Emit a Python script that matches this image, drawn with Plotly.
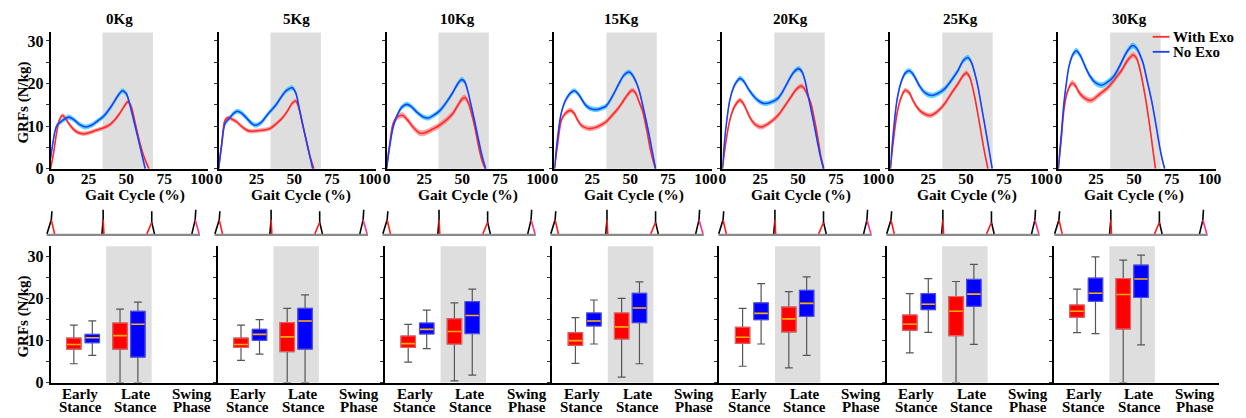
import plotly.graph_objects as go

W, H = 1246, 418
FIG_H = 428   # rendered page is squeezed vertically; positions below are fractions of H

LOADS = ["0Kg", "5Kg", "10Kg", "15Kg", "20Kg", "25Kg", "30Kg"]
SERIES = ["With Exo", "No Exo"]
GAIT_TICKS = [0, 25, 50, 75, 100]
GRF_TICKS = [0, 5, 10, 15, 20, 25, 30]
GRF_TICKTEXT = ["0", "", "10", "", "20", "", "30"]
PHASE_LINE1 = ["Early", "Late", "Swing"]
PHASE_LINE2 = ["Stance", "Stance", "Phase"]
LATE_STANCE = [34.3, 67.6]          # shaded late-stance window, gait cycle (%)

# ---- mean GRF curves (gait cycle %, N/kg) read from the top row ----
NOEXO_X = [
    [0, 1.5, 3, 4.5, 6, 9, 12, 15, 19, 23, 27, 31, 35, 40, 44, 47.5, 50, 52, 55, 58, 60.5, 62.5],
    [0, 2, 4.3, 7, 10, 12.4, 15, 19, 22, 24.7, 28, 31, 33.8, 38, 41.5, 45, 48.7, 51, 53.5, 56, 58.5, 60.5, 62.2],
    [0, 2, 4.4, 7, 10, 13.3, 16, 20, 24, 27.7, 31, 35.4, 40, 44, 47, 49.5, 51.5, 53.5, 55.5, 58, 60.5, 63, 65.5],
    [0, 2, 4, 5.6, 8, 11, 13.3, 16, 20.9, 24, 28.6, 31, 34.1, 38, 42.8, 46, 49.3, 51.5, 54, 55.9, 59, 62.4, 64.5, 66.8],
    [0, 2, 4.9, 7.5, 10, 11.6, 14, 17, 20.3, 24, 28, 32, 36.7, 40, 43.3, 47, 50.3, 52.5, 54.5, 56.4, 59, 61, 63, 65, 66.9],
    [0, 2, 4.4, 7, 10, 12.5, 15, 19.7, 23, 27.3, 31, 36, 40, 44.8, 48, 51.3, 53.5, 55.5, 57.9, 60.5, 63.4, 65.5, 67.3],
    [0, 2, 3.7, 5.5, 7, 9.5, 12, 14.5, 17.9, 21, 24.5, 28.4, 32, 36.5, 40, 43, 46, 49.1, 51.5, 54, 56.1, 58.5, 61.6, 64.5, 67, 68.8, 70.3],
]
NOEXO_Y = [
    [2.5, 6.0, 9.0, 10.3, 10.8, 11.6, 12.1, 11.6, 10.4, 9.8, 10.2, 11.2, 12.3, 14.6, 16.9, 18.3, 17.6, 15.5, 11.2, 6.8, 3.0, 0.0],
    [0, 5.5, 10.6, 11.8, 13.0, 13.5, 13.1, 11.7, 10.6, 10.2, 10.8, 12.1, 13.3, 15.0, 16.9, 18.4, 19.0, 17.8, 13.8, 9.7, 5.8, 2.6, 0],
    [0, 5, 9.8, 12.5, 14.4, 15.1, 14.7, 13.3, 12.2, 11.9, 12.5, 13.7, 15.8, 18.0, 19.9, 20.9, 20.5, 18.5, 15.5, 11.5, 7.3, 3.2, 0],
    [0, 7, 12.2, 14.5, 16.5, 17.9, 18.3, 17.4, 14.8, 14.1, 13.9, 14.2, 14.7, 16.8, 20.1, 22.0, 22.7, 22.0, 20.3, 18.4, 13.8, 8.2, 4.3, 0],
    [0, 8.5, 16.1, 19.2, 20.7, 21.2, 20.6, 18.8, 17.2, 15.9, 15.3, 15.6, 16.5, 18.2, 20.4, 22.6, 23.5, 22.8, 20.8, 17.6, 13.2, 9.6, 5.9, 2.5, 0],
    [0, 8.5, 16.1, 20.2, 22.5, 23.0, 22.2, 19.2, 17.8, 17.2, 17.6, 18.8, 20.6, 23.1, 25.3, 26.1, 25.0, 22.8, 19.2, 14.0, 8.2, 3.8, 0],
    [0, 8, 15.3, 20.5, 23.9, 26.7, 27.7, 26.6, 23.9, 21.7, 20.2, 19.6, 20.2, 21.6, 23.7, 25.9, 27.8, 28.9, 28.4, 26.7, 24.7, 21.0, 16.1, 10.4, 5.1, 2.0, 0],
]
EXO_X = [
    [0, 2, 4, 6, 7.8, 9.5, 12, 15, 18, 21.5, 25, 30, 35, 39, 42, 45.5, 48.5, 51, 53, 56, 59, 62, 65],
    [0, 2, 4.3, 6.5, 9, 12, 15, 18, 20.7, 25, 30, 33.8, 38, 42.6, 46, 48.5, 50.9, 53, 55.5, 58, 60.5, 63],
    [0, 2, 4.4, 7, 9, 11, 14, 17.5, 21.8, 25, 30, 35, 40, 43.7, 47, 50, 51.8, 54, 56.8, 59, 61.2, 63.5, 65.5],
    [0, 2, 4.6, 7, 10.5, 13, 15, 17.7, 20, 23.1, 28, 34.1, 38, 42.8, 47, 50, 51.9, 54, 56, 58.1, 61, 63.5, 65.5, 66.8],
    [0, 2, 4.9, 8, 11.6, 14, 16.5, 19.2, 22, 25.8, 30, 36.7, 41, 45.4, 49, 52.4, 54.5, 56.5, 58.5, 61, 63.3, 65, 66.9],
    [0, 2, 4.4, 7, 9.8, 12.5, 15, 17.5, 21, 26.2, 31, 36, 40, 44.8, 48, 50.3, 52.5, 55.7, 58.5, 61.2, 63, 64.5],
    [0, 2, 3.7, 6, 9.2, 11.3, 13.5, 17, 20, 22.3, 27, 33.2, 38, 41.9, 45.5, 49.5, 51.8, 53.5, 55, 57.5, 60.5, 62.5, 64.2],
]
EXO_Y = [
    [0, 3.8, 8.5, 11.6, 12.5, 12.0, 10.6, 9.3, 8.5, 8.2, 8.4, 9.0, 9.6, 10.3, 11.3, 12.9, 14.6, 15.7, 14.8, 10.5, 6.0, 2.5, 0],
    [0, 5.5, 11.4, 12.0, 11.6, 11.0, 10.0, 9.2, 8.8, 8.9, 9.1, 9.4, 10.5, 12.1, 13.8, 15.3, 15.9, 14.3, 10.4, 6.5, 2.8, 0],
    [0, 5.5, 10.6, 12.1, 12.5, 12.5, 11.4, 9.8, 8.4, 8.4, 9.2, 10.2, 11.6, 12.9, 14.8, 16.4, 16.7, 15.5, 12.1, 8.6, 4.6, 1.5, 0],
    [0, 5.5, 11.4, 12.9, 13.7, 13.0, 11.6, 10.2, 9.7, 9.4, 9.8, 11.0, 12.5, 14.5, 16.7, 18.1, 18.4, 17.5, 15.6, 13.7, 9.0, 4.3, 1.5, 0],
    [0, 5.5, 11.4, 14.6, 16.1, 15.2, 13.3, 11.4, 10.3, 9.8, 10.5, 12.5, 14.6, 16.9, 18.7, 19.4, 18.6, 17.0, 15.3, 11.2, 6.7, 3.0, 0],
    [0, 6.5, 12.9, 16.6, 18.4, 17.8, 16.0, 14.5, 13.2, 12.5, 13.4, 15.3, 17.5, 20.0, 21.8, 22.5, 21.4, 16.9, 11.5, 5.9, 2.5, 0],
    [0, 7, 13.7, 18.0, 20.1, 19.5, 18.0, 16.7, 16.1, 16.1, 17.4, 19.2, 21.3, 23.1, 25.3, 26.7, 25.9, 24.0, 21.6, 16.8, 9.8, 4.5, 0],
]
NOEXO_SD = [0.6, 0.6, 0.6, 0.6, 0.6, 0.65, 0.7]
EXO_SD = [0.5, 0.5, 0.7, 0.6, 0.6, 0.6, 0.7]

# ---- phase box plots: [lower whisker, Q1, median, Q3, upper whisker] (N/kg) ----
BOX_EXO_EARLY = [[4.5, 8.0, 9.1, 10.6, 13.7], [5.3, 8.4, 9.1, 10.6, 13.7], [4.9, 8.4, 9.3, 11.1, 13.9],
                 [4.6, 8.9, 10.0, 11.9, 15.5], [3.9, 9.4, 10.8, 13.2, 17.7], [7.1, 12.5, 13.9, 16.1, 21.2],
                 [11.9, 15.6, 17.0, 18.5, 22.3]]
BOX_NOEXO_EARLY = [[6.5, 9.5, 10.7, 11.5, 14.7], [6.8, 10.1, 11.5, 12.7, 15.0], [8.1, 11.6, 12.7, 14.2, 17.3],
                   [9.2, 13.5, 14.7, 16.6, 19.7], [9.2, 15.0, 16.5, 19.0, 23.6], [12.0, 17.4, 18.7, 21.2, 24.8],
                   [11.7, 19.4, 21.3, 24.9, 30.0]]
BOX_EXO_LATE = [[0, 8.0, 11.2, 14.2, 17.5], [0, 7.4, 10.9, 14.3, 17.7], [0.4, 9.2, 12.2, 15.2, 19.0],
                [1.3, 10.4, 13.3, 16.6, 20.1], [3.5, 12.1, 15.2, 18.0, 21.7], [0, 11.2, 17.0, 20.5, 24.1],
                [0, 12.8, 21.0, 24.8, 29.2]]
BOX_NOEXO_LATE = [[0, 6.1, 13.9, 17.0, 19.2], [0, 8.0, 14.7, 17.7, 20.9], [1.8, 11.7, 16.0, 19.3, 22.3],
                  [4.5, 14.3, 17.8, 21.3, 24.0], [6.5, 15.8, 18.9, 22.0, 25.2], [9.1, 18.2, 21.1, 24.6, 28.2],
                  [9.0, 20.3, 24.7, 28.0, 30.4]]

# ---- gait-phase stick figures (x: gait %, y: height in strip units) ----
STICK_TOP_X = [0.87, 34.7, 66.8, 95.9]
STICK_TOP_Y = [25.3, 26.7, 25.3, 26.7]
STICK_HIP_X = [0.44, 34.7, 66.8, 95.5]
STICK_HIP_Y = [16.7, 16.7, 14.3, 16.7]
BLACK_FOOT_X = [-2.4, 33.9, 68.6, 93.3]
COLOR_FOOT_X = [2.6, 35.2, 63.6, 98.1]
FOOT_Y = [2.7, 2.7, 2.7, 2.7]
LEG_COLORS = ["#ff1a1a", "#ff1a1a", "#ff1a1a", "#ff2a8a"]
GROUND_X = [-2.6, 98.7]
GROUND_Y = [1.7, 1.7]

# ---------------- styling / layout constants ----------------
FAM = "Liberation Serif, Times New Roman, serif"


def fnt(size):
    return dict(family=FAM, size=size, color="black", weight="bold")


RED, RED_BAND = "#ff2b2b", "rgba(255,90,90,0.55)"
BLUE, BLUE_BAND = "#1f3dff", "rgba(0,195,255,0.65)"
BOX_RED, BOX_RED_EDGE = "#ff0000", "#ff6060"
BOX_BLUE, BOX_BLUE_EDGE = "#0000ff", "#5050ff"
MEDIAN = "#ffab00"
WHISK = "#555555"
SHADE = "#dedede"

TOP_LEFT = [47 + 169.3 * i for i in range(7)]
TOP_W = 158.7
TOP_Y = (32.3, 168.3)
STRIP_Y = (207.0, 236.0)
BOT_LEFT = [47 + 168.55 * i for i in range(7)]
BOT_W = 167.0
BOT_Y = (245.7, 381.7)
POS = dict(exo_early=0.42, noexo_early=0.755, exo_late=1.257, noexo_late=1.58)
BOX_W = 0.26
LATE_BOX = [1.006, 1.83]
PHASE_POS = [0.539, 1.545, 2.563]
TITLE_CX = [116, 295.3, 457.2, 622.8, 793, 963.8, 1134.2]
XT_CX = [131.7 + 167.9 * i for i in range(7)]


def sfx(n):
    return "" if n == 1 else str(n)


def xd(a, b):
    return [a / W, b / W]


def yd(top, bottom):
    return [1 - bottom / H, 1 - top / H]


fig = go.Figure()
layout = dict(width=W, height=FIG_H, margin=dict(l=0, r=0, t=0, b=0),
              paper_bgcolor="white", plot_bgcolor="rgba(0,0,0,0)", showlegend=False)
shapes, annotations = [], []

for i in range(7):
    nt, ns, nb = 1 + i, 8 + i, 15 + i
    xt, yt = "x" + sfx(nt), "y" + sfx(nt)
    xs, ys = "x" + sfx(ns), "y" + sfx(ns)
    xb, yb = "x" + sfx(nb), "y" + sfx(nb)

    # ---------- top: GRF curves ----------
    L = TOP_LEFT[i]
    layout["xaxis" + sfx(nt)] = dict(domain=xd(L, L + TOP_W), range=[0, 104], anchor=yt,
                                     tickvals=GAIT_TICKS, ticks="", showline=True, linewidth=2,
                                     linecolor="black", showgrid=False, zeroline=False,
                                     tickfont=fnt(15.5), ticklabelstandoff=-5, fixedrange=True)
    layout["yaxis" + sfx(nt)] = dict(domain=yd(*TOP_Y), range=[0, 32], anchor=xt,
                                     tickvals=GRF_TICKS,
                                     ticktext=GRF_TICKTEXT if i == 0 else [""] * len(GRF_TICKS),
                                     ticks="outside", ticklen=3, tickwidth=1, tickcolor="#333",
                                     showline=True, linewidth=2, linecolor="black", ticklabelstandoff=-1,
                                     showgrid=False, zeroline=False, tickfont=fnt(16), fixedrange=True)
    shapes.append(dict(type="rect", xref=xt, yref=yt + " domain", x0=LATE_STANCE[0], x1=LATE_STANCE[1],
                       y0=0, y1=1, fillcolor=SHADE, line=dict(width=0), layer="below"))

    curves = [(EXO_X[i], EXO_Y[i], EXO_SD[i], RED, RED_BAND, SERIES[0]),
              (NOEXO_X[i], NOEXO_Y[i], NOEXO_SD[i], BLUE, BLUE_BAND, SERIES[1])]
    for cx, cy, sd, col, band, name in curves:
        fig.add_trace(go.Scatter(x=cx, y=[v + sd for v in cy], xaxis=xt, yaxis=yt, mode="lines",
                                 line=dict(width=0, shape="spline", smoothing=0.9),
                                 hoverinfo="skip", showlegend=False))
        fig.add_trace(go.Scatter(x=cx, y=[v - sd for v in cy], xaxis=xt, yaxis=yt, mode="lines",
                                 line=dict(width=0, shape="spline", smoothing=0.9), fill="tonexty",
                                 fillcolor=band, hoverinfo="skip", showlegend=False))
    for cx, cy, sd, col, band, name in curves:
        fig.add_trace(go.Scatter(x=cx, y=cy, xaxis=xt, yaxis=yt, mode="lines", name=name,
                                 line=dict(width=1.6, color=col, shape="spline", smoothing=0.9),
                                 showlegend=False))

    annotations.append(dict(text=LOADS[i], xref="paper", yref="paper", x=TITLE_CX[i] / W,
                            y=1 - 18.5 / H, xanchor="center", yanchor="middle", showarrow=False,
                            font=fnt(15)))
    annotations.append(dict(text="Gait Cycle (%)", xref="paper", yref="paper", x=XT_CX[i] / W,
                            y=1 - 194.5 / H, xanchor="center", yanchor="middle", showarrow=False,
                            font=fnt(15.5)))

    # ---------- middle: stick figures ----------
    layout["xaxis" + sfx(ns)] = dict(domain=xd(L - 5, L + TOP_W), range=[-5 / 1.526, 104],
                                     anchor=ys, visible=False, fixedrange=True)
    layout["yaxis" + sfx(ns)] = dict(domain=yd(*STRIP_Y), range=[0, 29], anchor=xs,
                                     visible=False, fixedrange=True)
    fig.add_trace(go.Scatter(x=GROUND_X, y=GROUND_Y, xaxis=xs, yaxis=ys, mode="lines",
                             line=dict(color="#8a8a8a", width=2.2), hoverinfo="skip", showlegend=False))
    for k in range(4):
        fig.add_trace(go.Scatter(x=[STICK_TOP_X[k], STICK_HIP_X[k], BLACK_FOOT_X[k]],
                                 y=[STICK_TOP_Y[k], STICK_HIP_Y[k], FOOT_Y[k]],
                                 xaxis=xs, yaxis=ys, mode="lines", line=dict(color="black", width=1.6),
                                 hoverinfo="skip", showlegend=False))
        fig.add_trace(go.Scatter(x=[STICK_HIP_X[k], COLOR_FOOT_X[k]], y=[STICK_HIP_Y[k], FOOT_Y[k]],
                                 xaxis=xs, yaxis=ys, mode="lines", line=dict(color=LEG_COLORS[k], width=1.6),
                                 hoverinfo="skip", showlegend=False))

    # ---------- bottom: box plots ----------
    B = BOT_LEFT[i]
    layout["xaxis" + sfx(nb)] = dict(domain=xd(B, B + BOT_W), range=[0, 3], anchor=yb,
                                     showticklabels=False, ticks="", showline=True, linewidth=2,
                                     linecolor="black", showgrid=False, zeroline=False, fixedrange=True)
    layout["yaxis" + sfx(nb)] = dict(domain=yd(*BOT_Y), range=[0, 32.5], anchor=xb,
                                     tickvals=GRF_TICKS,
                                     ticktext=GRF_TICKTEXT if i == 0 else [""] * len(GRF_TICKS),
                                     ticks="outside", ticklen=3, tickwidth=1, tickcolor="#333",
                                     showline=True, linewidth=2, linecolor="black", ticklabelstandoff=-1,
                                     showgrid=False, zeroline=False, tickfont=fnt(16), fixedrange=True)
    shapes.append(dict(type="rect", xref=xb, yref=yb + " domain", x0=LATE_BOX[0], x1=LATE_BOX[1],
                       y0=0, y1=1, fillcolor=SHADE, line=dict(width=0), layer="below"))

    boxes = [(BOX_EXO_EARLY[i], POS["exo_early"], BOX_RED, BOX_RED_EDGE, SERIES[0]),
             (BOX_NOEXO_EARLY[i], POS["noexo_early"], BOX_BLUE, BOX_BLUE_EDGE, SERIES[1]),
             (BOX_EXO_LATE[i], POS["exo_late"], BOX_RED, BOX_RED_EDGE, SERIES[0]),
             (BOX_NOEXO_LATE[i], POS["noexo_late"], BOX_BLUE, BOX_BLUE_EDGE, SERIES[1])]
    med_x, med_y = [], []
    for st, p, fillc, edge, name in boxes:
        lo, q1, md, q3, hi = st
        fig.add_trace(go.Box(x=[p], q1=[q1], median=[md], q3=[q3], lowerfence=[lo], upperfence=[hi],
                             xaxis=xb, yaxis=yb, width=BOX_W, whiskerwidth=0.55, fillcolor=fillc,
                             line=dict(color=WHISK, width=1.2), boxpoints=False, name=name,
                             hoverinfo="skip", showlegend=False))
        fig.add_trace(go.Box(x=[p], q1=[q1], median=[md], q3=[q3], lowerfence=[q1], upperfence=[q3],
                             xaxis=xb, yaxis=yb, width=BOX_W, whiskerwidth=0, fillcolor=fillc,
                             line=dict(color=edge, width=1), boxpoints=False, name=name,
                             hoverinfo="skip", showlegend=False))
        med_x += [p - BOX_W / 2 + 0.01, p + BOX_W / 2 - 0.01, None]
        med_y += [md, md, None]
    fig.add_trace(go.Scatter(x=med_x, y=med_y, xaxis=xb, yaxis=yb, mode="lines",
                             line=dict(color=MEDIAN, width=1.6), hoverinfo="skip", showlegend=False))

    for k in range(3):
        annotations.append(dict(text=PHASE_LINE1[k], xref=xb, yref="paper", x=PHASE_POS[k],
                                y=1 - 393.5 / H, xanchor="center", yanchor="middle",
                                showarrow=False, font=fnt(15)))
        annotations.append(dict(text=PHASE_LINE2[k], xref=xb, yref="paper", x=PHASE_POS[k],
                                y=1 - 406.5 / H, xanchor="center", yanchor="middle",
                                showarrow=False, font=fnt(15)))

# y-axis titles
for cy in (102.5, 316):
    annotations.append(dict(text="GRFs (N/kg)", xref="paper", yref="paper", x=20 / W, y=1 - cy / H,
                            xanchor="center", yanchor="middle", textangle=-90, showarrow=False,
                            font=fnt(15)))

# legend (top-right of the 30Kg panel)
for name, col, ly in ((SERIES[0], RED, 36.7), (SERIES[1], BLUE, 51.7)):
    shapes.append(dict(type="line", xref="paper", yref="paper", x0=1158 / W, x1=1175 / W,
                       y0=1 - ly / H, y1=1 - ly / H, line=dict(color=col, width=1.8)))
    annotations.append(dict(text=name, xref="paper", yref="paper", x=1176 / W, y=1 - ly / H,
                            xanchor="left", yanchor="middle", showarrow=False, font=fnt(15)))

layout["shapes"] = shapes
layout["annotations"] = annotations
fig.update_layout(**layout)
fig.write_html("out.html")
